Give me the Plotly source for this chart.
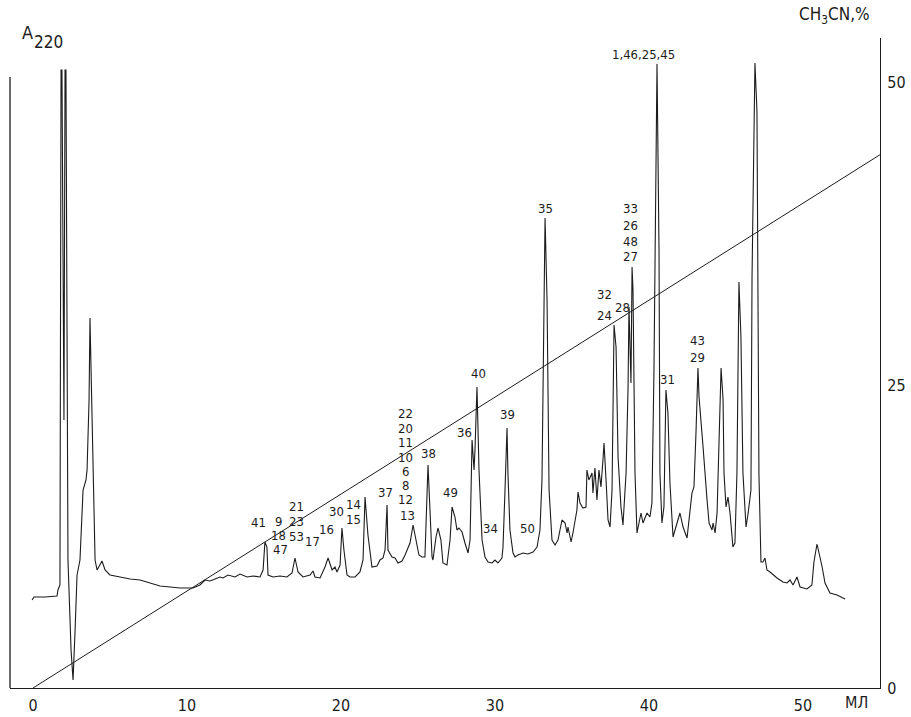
import plotly.graph_objects as go

# Elution volume (ml) and absorbance at 220 nm of the chromatogram trace
elution_ml = [
    -0.06, 0.06, 0.78, 1.56, 1.62, 1.75, 1.82, 1.88, 2.01, 2.08, 2.14, 2.27, 2.47, 2.60, 2.73, 2.86,
    3.05, 3.25, 3.44, 3.51, 3.64, 3.70, 3.77, 3.90, 4.03, 4.16, 4.29, 4.48, 4.68, 5.00, 5.65, 6.30,
    6.95, 7.60, 8.25, 8.90, 9.55, 10.39, 10.84, 11.17, 11.49, 11.82, 12.14, 12.34, 12.66, 13.12,
    13.44, 13.90, 14.29, 14.74, 14.94, 15.06, 15.19, 15.26, 15.58, 16.04, 16.49, 16.82, 17.01, 17.21,
    17.53, 17.99, 18.18, 18.31, 18.64, 18.96, 19.16, 19.42, 19.61, 19.74, 19.94, 20.06, 20.19, 20.39,
    20.58, 20.91, 21.23, 21.43, 21.56, 21.75, 22.01, 22.34, 22.53, 22.73, 22.86, 22.99, 23.05, 23.31,
    23.51, 23.70, 23.96, 24.16, 24.48, 24.68, 24.87, 25.06, 25.26, 25.45, 25.65, 25.78, 25.91, 25.97,
    26.17, 26.30, 26.49, 26.62, 26.88, 27.08, 27.21, 27.40, 27.53, 27.66, 27.86, 28.05, 28.25, 28.38,
    28.51, 28.64, 28.70, 28.83, 28.96, 29.16, 29.35, 29.55, 29.81, 30.00, 30.19, 30.45, 30.52, 30.65,
    30.78, 30.84, 30.97, 31.17, 31.30, 31.49, 31.82, 32.14, 32.47, 32.73, 32.92, 33.05, 33.25, 33.38,
    33.51, 33.70, 33.90, 34.09, 34.35, 34.55, 34.68, 34.74, 34.94, 35.06, 35.32, 35.39, 35.52, 35.71,
    35.91, 35.97, 36.10, 36.30, 36.36, 36.49, 36.62, 36.75, 36.88, 37.01, 37.08, 37.21, 37.34, 37.47,
    37.60, 37.73, 37.86, 37.99, 38.18, 38.31, 38.51, 38.64, 38.70, 38.83, 38.90, 38.96, 39.09, 39.22,
    39.48, 39.61, 39.87, 40.06, 40.19, 40.32, 40.52, 40.65, 40.71, 40.84, 40.97, 41.10, 41.23, 41.36,
    41.56, 41.82, 42.01, 42.21, 42.47, 42.79, 42.92, 43.05, 43.18, 43.25, 43.44, 43.51, 43.77, 43.90,
    44.09, 44.16, 44.29, 44.42, 44.55, 44.68, 44.81, 44.87, 45.00, 45.13, 45.26, 45.45, 45.58, 45.71,
    45.84, 45.97, 46.10, 46.30, 46.43, 46.62, 46.69, 46.88, 47.01, 47.08, 47.14, 47.27, 47.40, 47.53,
    47.66, 47.86, 48.31, 48.70, 48.96, 49.16, 49.35, 49.61, 49.81, 50.26, 50.58, 50.71, 50.91, 51.23,
    51.43, 51.75, 52.21, 52.73,
]
a220 = [
    0.088, 0.091, 0.091, 0.092, 0.098, 0.103, 0.618, 0.618, 0.268, 0.618, 0.618, 0.128, 0.038, 0.008, 0.057, 0.113,
    0.128, 0.198, 0.208, 0.218, 0.288, 0.370, 0.318, 0.218, 0.128, 0.118, 0.122, 0.127, 0.118, 0.113, 0.111, 0.109,
    0.108, 0.105, 0.102, 0.101, 0.100, 0.100, 0.103, 0.108, 0.107, 0.109, 0.111, 0.110, 0.113, 0.111,
    0.114, 0.111, 0.112, 0.111, 0.118, 0.146, 0.141, 0.113, 0.111, 0.112, 0.111, 0.115, 0.130, 0.116,
    0.111, 0.113, 0.117, 0.111, 0.110, 0.121, 0.130, 0.118, 0.121, 0.116, 0.123, 0.160, 0.138, 0.113,
    0.111, 0.111, 0.116, 0.128, 0.191, 0.153, 0.121, 0.122, 0.128, 0.130, 0.138, 0.183, 0.138, 0.131,
    0.130, 0.125, 0.127, 0.133, 0.145, 0.163, 0.148, 0.133, 0.131, 0.131, 0.223, 0.175, 0.131, 0.128,
    0.151, 0.160, 0.148, 0.125, 0.123, 0.148, 0.181, 0.171, 0.158, 0.160, 0.156, 0.145, 0.135, 0.148,
    0.248, 0.218, 0.238, 0.301, 0.218, 0.148, 0.131, 0.126, 0.125, 0.128, 0.125, 0.130, 0.141, 0.198,
    0.260, 0.215, 0.158, 0.135, 0.131, 0.133, 0.135, 0.134, 0.136, 0.141, 0.158, 0.208, 0.470, 0.388,
    0.198, 0.148, 0.143, 0.148, 0.168, 0.165, 0.155, 0.161, 0.146, 0.155, 0.178, 0.196, 0.185, 0.180,
    0.181, 0.218, 0.208, 0.215, 0.195, 0.220, 0.188, 0.218, 0.201, 0.228, 0.245, 0.208, 0.168, 0.161,
    0.198, 0.363, 0.341, 0.231, 0.181, 0.163, 0.215, 0.301, 0.381, 0.305, 0.421, 0.398, 0.215, 0.155,
    0.175, 0.165, 0.175, 0.171, 0.185, 0.315, 0.624, 0.438, 0.215, 0.165, 0.181, 0.298, 0.275, 0.205,
    0.151, 0.165, 0.175, 0.161, 0.150, 0.195, 0.201, 0.255, 0.320, 0.291, 0.248, 0.241, 0.188, 0.165,
    0.158, 0.165, 0.155, 0.175, 0.248, 0.320, 0.288, 0.215, 0.181, 0.191, 0.175, 0.141, 0.145, 0.215,
    0.406, 0.351, 0.215, 0.161, 0.174, 0.198, 0.411, 0.625, 0.577, 0.371, 0.213, 0.126, 0.126, 0.130,
    0.118, 0.116, 0.110, 0.106, 0.105, 0.108, 0.103, 0.111, 0.101, 0.099, 0.103, 0.126, 0.144, 0.122,
    0.105, 0.095, 0.093, 0.089,
]

# Linear acetonitrile gradient
gradient_ml = [0, 55]
gradient_pct = [0, 44]

# Peak numbers (one entry per printed line) with their placement
peak_labels = [
    ("41", 14.61, 0.166), ("9", 15.91, 0.167), ("18", 15.97, 0.153), ("47", 16.04, 0.139),
    ("21", 17.14, 0.182), ("23", 17.14, 0.167), ("53", 17.14, 0.152), ("17", 18.18, 0.147),
    ("16", 19.09, 0.159), ("30", 19.68, 0.177), ("14", 20.84, 0.184), ("15", 20.84, 0.169),
    ("37", 22.92, 0.196), ("22", 24.22, 0.275), ("20", 24.22, 0.260), ("11", 24.16, 0.246),
    ("10", 24.16, 0.231), ("6", 24.16, 0.217), ("8", 24.16, 0.203), ("12", 24.22, 0.189),
    ("13", 24.29, 0.173), ("38", 25.65, 0.235), ("49", 27.08, 0.196), ("36", 27.99, 0.256),
    ("40", 28.90, 0.315), ("39", 30.78, 0.274), ("34", 29.68, 0.160), ("50", 32.08, 0.160),
    ("35", 33.25, 0.480), ("32", 37.14, 0.394), ("24", 37.14, 0.373), ("28", 38.31, 0.381),
    ("33", 38.83, 0.480), ("26", 38.83, 0.463), ("48", 38.83, 0.447), ("27", 38.83, 0.432),
    ("1,46,25,45", 39.61, 0.634), ("31", 41.23, 0.309), ("43", 43.12, 0.348), ("29", 43.12, 0.331),
]

x_ticks = [0, 10, 20, 30, 40, 50]
pct_ticks = [0, 25, 50]

FONT = "Liberation Sans Narrow, DejaVu Sans Condensed, Arial Narrow, sans-serif"
INK = "#1c1c1c"

fig = go.Figure()
fig.add_trace(go.Scatter(
    x=elution_ml, y=a220, mode="lines", yaxis="y",
    line=dict(color=INK, width=1.1), hoverinfo="skip", showlegend=False,
))
fig.add_trace(go.Scatter(
    x=gradient_ml, y=gradient_pct, mode="lines", yaxis="y2",
    line=dict(color=INK, width=1), hoverinfo="skip", showlegend=False,
))

annotations = [
    dict(text=t, x=x, y=y, xref="x", yref="y", showarrow=False,
         font=dict(family=FONT, size=13, color=INK), xanchor="center", yanchor="middle")
    for t, x, y in peak_labels
]

def corner_text(text, x, y, size, xanchor="left"):
    return dict(text=text, xref="paper", yref="paper", x=x, y=y,
                xanchor=xanchor, yanchor="middle", showarrow=False,
                font=dict(family=FONT, size=size, color=INK))

annotations += [
    corner_text("A", 0.011, 1.008, 18),
    corner_text("220", 0.025, 0.994, 17),
    corner_text("CH<sub>3</sub>CN,%", 0.905, 1.035, 17),
    dict(text="МЛ", xref="x", yref="paper", x=53.5, y=-0.023,
         xanchor="center", yanchor="middle", showarrow=False,
         font=dict(family=FONT, size=16, color=INK)),
]

fig.update_layout(
    width=911, height=717,
    margin=dict(l=10, r=31, t=38, b=29),
    paper_bgcolor="white", plot_bgcolor="white",
    showlegend=False,
    xaxis=dict(range=[-1.494, 55.0], showline=True, linecolor=INK, linewidth=1.3,
               tickvals=x_ticks, ticks="", showgrid=False, zeroline=False,
               automargin=False, ticklabelstandoff=3,
               tickfont=dict(family=FONT, size=16, color=INK)),
    yaxis=dict(range=[0, 0.650], showline=False, showticklabels=False, ticks="",
               showgrid=False, zeroline=False, automargin=False),
    yaxis2=dict(range=[0, 53.63], overlaying="y", side="right", showline=True,
                linecolor=INK, linewidth=1.3, tickvals=pct_ticks, ticks="",
                showgrid=False, zeroline=False, automargin=False, ticklabelstandoff=3,
                tickfont=dict(family=FONT, size=16, color=INK)),
    annotations=annotations,
    shapes=[dict(type="line", xref="paper", yref="paper", x0=0, x1=0, y0=0, y1=0.94,
                 line=dict(color=INK, width=1.3))],
)

fig.write_html("out.html")
